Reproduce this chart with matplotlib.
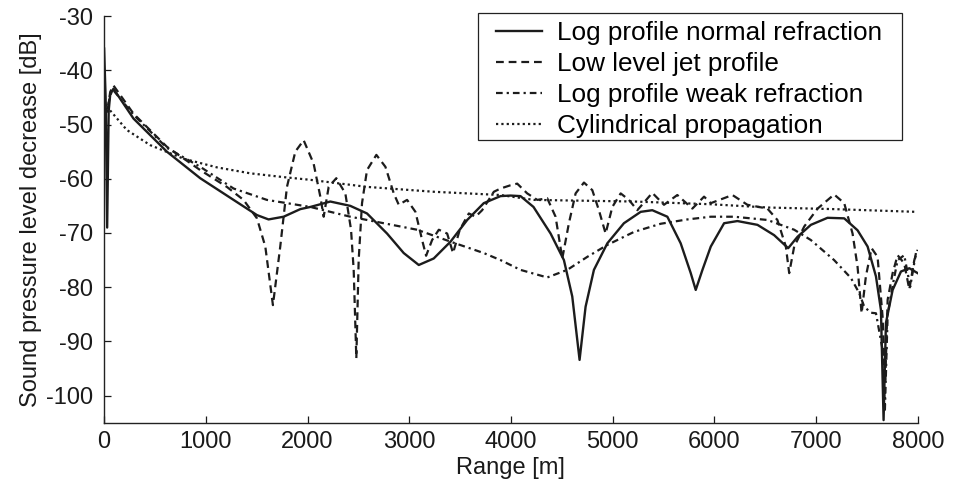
import matplotlib
matplotlib.use('Agg')
import matplotlib.pyplot as plt
from matplotlib.patches import Rectangle

plt.rcParams['font.family'] = ['Liberation Sans', 'DejaVu Sans']
plt.rcParams['axes.unicode_minus'] = False

# Log profile normal refraction
normal_x = [0, 15, 30, 45, 60, 92, 289, 617, 945, 1273, 1503, 1617, 1765, 1929, 2028,
            2224, 2421, 2585, 2782, 2946, 3094, 3241, 3406, 3570, 3733, 3898, 3996,
            4094, 4222, 4390, 4521, 4603, 4675, 4734, 4816, 4948, 5111, 5276, 5390,
            5538, 5669, 5768, 5817, 5883, 5965, 6096, 6227, 6424, 6588, 6726, 6818,
            6949, 7113, 7277, 7408, 7507, 7589, 7638, 7664, 7687, 7753, 7835, 7917, 7999]
normal_y = [-36.0, -45.0, -69.0, -47.5, -44.5, -43.4, -48.9, -55.0, -59.9, -63.9, -66.7,
            -67.5, -67.0, -65.6, -65.2, -64.2, -65.0, -66.4, -70.1, -73.7, -75.9, -74.7,
            -71.6, -67.6, -64.5, -63.2, -63.1, -63.2, -65.2, -70.1, -75.0, -81.7, -93.4,
            -83.6, -76.8, -71.9, -68.2, -66.1, -65.8, -67.0, -71.9, -77.4, -80.5, -76.8,
            -72.5, -68.2, -67.8, -68.5, -70.4, -72.8, -70.7, -68.5, -67.2, -67.3, -69.5,
            -72.5, -78.0, -84.2, -104.5, -86.6, -80.5, -77.1, -76.5, -77.4]

# Low level jet profile
jet_x = [5, 30, 60, 92, 289, 617, 945, 1207, 1371, 1503, 1585, 1660, 1732, 1798, 1880,
         1962, 2060, 2126, 2159, 2208, 2283, 2372, 2428, 2454, 2480, 2503, 2536, 2585,
         2677, 2766, 2848, 2897, 2979, 3061, 3127, 3166, 3225, 3291, 3373, 3431, 3497,
         3586, 3652, 3717, 3832, 3898, 3996, 4062, 4160, 4259, 4357, 4439, 4505, 4570,
         4636, 4718, 4800, 4865, 4931, 4997, 5079, 5160, 5243, 5390, 5505, 5636, 5784,
         5899, 5965, 6178, 6325, 6522, 6620, 6703, 6736, 6785, 6884, 7015, 7178, 7277,
         7359, 7408, 7448, 7490, 7546, 7605, 7654, 7680, 7704, 7753, 7802, 7867, 7917,
         7966, 7999]
jet_y = [-46.5, -48.0, -44.0, -42.8, -48.0, -54.1, -58.4, -61.5, -63.9, -67.3, -72.5,
         -83.3, -72.5, -61.5, -55.0, -52.9, -57.2, -63.3, -67.0, -61.5, -59.9, -62.7,
         -69.4, -76.8, -93.1, -75.0, -64.5, -58.4, -55.6, -57.8, -62.7, -64.8, -63.9,
         -66.1, -71.3, -74.2, -71.3, -69.4, -70.1, -73.7, -69.4, -66.4, -67.0, -65.8,
         -62.4, -61.8, -61.2, -60.9, -62.7, -63.9, -63.6, -67.0, -74.7, -68.2, -62.7,
         -60.7, -62.1, -65.8, -70.1, -65.2, -62.7, -63.9, -65.8, -62.6, -64.8, -63.0,
         -65.5, -63.3, -64.5, -63.0, -64.8, -65.5, -67.6, -72.5, -77.4, -72.5, -68.8,
         -65.5, -62.9, -64.5, -70.1, -76.2, -84.8, -78.0, -72.8, -74.4, -85.4, -97.7,
         -82.3, -77.4, -74.1, -75.6, -80.4, -75.0, -73.1]

# Log profile weak refraction
weak_x = [5, 30, 60, 92, 289, 617, 945, 1273, 1601, 2028, 2421, 2749, 3077, 3406, 3733,
          3898, 4094, 4357, 4554, 4751, 4948, 5210, 5472, 5735, 5965, 6194, 6522, 6785,
          6949, 7178, 7343, 7425, 7474, 7539, 7589, 7654, 7677, 7704, 7753, 7802, 7867,
          7926, 7982]
weak_y = [-45.5, -47.5, -44.5, -43.7, -48.2, -54.3, -57.8, -61.8, -63.9, -65.2, -67.0,
          -68.2, -69.4, -71.6, -73.7, -75.0, -76.8, -78.2, -76.8, -74.4, -72.2, -69.8,
          -68.3, -67.5, -67.0, -67.0, -67.6, -69.4, -71.3, -75.0, -78.3, -81.1, -83.6,
          -84.7, -84.8, -91.5, -102.6, -85.0, -79.7, -75.0, -74.1, -79.9, -73.7]

# Cylindrical propagation
cyl_x = [59, 223, 453, 781, 1109, 1437, 1765, 2028, 2585, 3241, 3898, 4226, 5210,
         5965, 6522, 7178, 7982]
cyl_y = [-47.4, -51.0, -53.8, -56.3, -57.9, -59.0, -59.7, -60.2, -61.5, -62.4, -63.0,
         -63.9, -64.2, -64.7, -65.3, -65.6, -66.1]

labels = ['Log profile normal refraction', 'Low level jet profile',
          'Log profile weak refraction', 'Cylindrical propagation']

fig = plt.figure(figsize=(9.55, 4.86), dpi=100)
ax = fig.add_axes([0.109, 0.130, 0.852, 0.837])

c = '#1c1c1c'
ax.plot(normal_x, normal_y, color=c, lw=1.7, ls='-', label=labels[0])
ax.plot(jet_x, jet_y, color=c, lw=1.6, ls=(0, (3.5, 2.2)), label=labels[1])
ax.plot(weak_x, weak_y, color=c, lw=1.6, ls=(0, (3, 1.8, 1, 1.8)), label=labels[2])
ax.plot(cyl_x, cyl_y, color=c, lw=1.6, ls=(0, (1, 1.4)), label=labels[3])

ax.set_xlim(0, 8000)
ax.set_ylim(-105, -30)
ax.set_xticks(range(0, 8001, 1000))
ax.set_yticks(range(-100, -29, 10))

for s in ['top', 'right']:
    ax.spines[s].set_visible(False)
for s in ['left', 'bottom']:
    ax.spines[s].set_linewidth(1.0)
    ax.spines[s].set_color('#222222')

ax.tick_params(direction='in', length=5, width=0.9, labelsize=17, colors='#1a1a1a')
ax.tick_params(axis='y', pad=8)
ax.tick_params(axis='x', pad=6)

ax.set_xlabel('Range [m]', fontsize=17, color='#1a1a1a')
ax.set_ylabel('Sound pressure level decrease [dB]', fontsize=17, color='#1a1a1a')
ax.xaxis.set_label_coords(0.499, -0.084)
ax.yaxis.set_label_coords(-0.076, 0.5)

# legend without its own frame, box drawn separately (wider side padding as in the scan)
leg = ax.legend(loc='upper left', bbox_to_anchor=(496 / 955, 1 - 21 / 486),
                bbox_transform=fig.transFigure, borderaxespad=0, borderpad=0,
                fontsize=18.8, frameon=False, handlelength=1.75, handletextpad=0.6,
                labelspacing=0.27)
box = Rectangle((478 / 955, 1 - 140 / 486), 424 / 955, 127 / 486,
                transform=fig.transFigure, facecolor='white', edgecolor='#222222',
                lw=0.9, zorder=4.9, clip_on=False)
ax.add_patch(box)

fig.savefig('out.png', dpi=100)
